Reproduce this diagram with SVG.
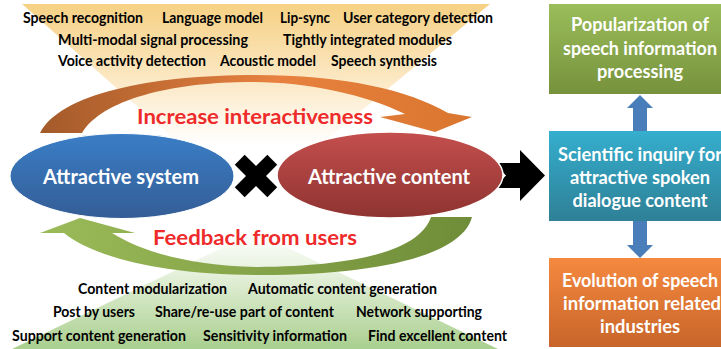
<svg xmlns="http://www.w3.org/2000/svg" width="721" height="349" viewBox="0 0 721 349">
<defs>
<linearGradient id="gTopTri" x1="0" y1="0" x2="0" y2="1">
<stop offset="0" stop-color="#f6d184"/><stop offset="0.35" stop-color="#fbe6bf"/><stop offset="0.7" stop-color="#ffffff"/><stop offset="1" stop-color="#ffffff"/>
</linearGradient>
<linearGradient id="gBotTri" x1="0" y1="0" x2="0" y2="1">
<stop offset="0" stop-color="#ffffff"/><stop offset="0.35" stop-color="#e6f1dc"/><stop offset="1" stop-color="#a9cf8e"/>
</linearGradient>
<linearGradient id="gOrangeArrow" x1="0" y1="0" x2="1" y2="0">
<stop offset="0" stop-color="#a35a2a"/><stop offset="0.55" stop-color="#e8813f"/><stop offset="1" stop-color="#d9762f"/>
</linearGradient>
<linearGradient id="gGreenArrow" x1="0" y1="0" x2="1" y2="0">
<stop offset="0" stop-color="#9bbb59"/><stop offset="0.6" stop-color="#819f45"/><stop offset="1" stop-color="#6f8c38"/>
</linearGradient>
<linearGradient id="gBlue" x1="0" y1="0" x2="0" y2="1">
<stop offset="0" stop-color="#3a7ec6"/><stop offset="1" stop-color="#345d96"/>
</linearGradient>
<linearGradient id="gRed" x1="0" y1="0" x2="0" y2="1">
<stop offset="0" stop-color="#c44f4d"/><stop offset="1" stop-color="#8e3331"/>
</linearGradient>
<linearGradient id="gBoxGreen" x1="0" y1="0" x2="0" y2="1">
<stop offset="0" stop-color="#9bbd5a"/><stop offset="1" stop-color="#76923c"/>
</linearGradient>
<linearGradient id="gBoxCyan" x1="0" y1="0" x2="0" y2="1">
<stop offset="0" stop-color="#35aece"/><stop offset="1" stop-color="#2e8096"/>
</linearGradient>
<linearGradient id="gBoxOrange" x1="0" y1="0" x2="0" y2="1">
<stop offset="0" stop-color="#f5893f"/><stop offset="1" stop-color="#c8652a"/>
</linearGradient>
</defs>
<style>
.kw{font-family:Lato,"Liberation Sans",sans-serif;font-weight:bold;font-size:15px;fill:#000000;}
.red{font-family:Lato,"Liberation Sans",sans-serif;font-weight:bold;font-size:21px;fill:#ee2a2a;}
.ell{font-family:Lato,"Liberation Sans",sans-serif;font-weight:bold;font-size:21px;fill:#ffffff;}
.box{font-family:Lato,"Liberation Sans",sans-serif;font-weight:bold;font-size:18.5px;fill:#ffffff;text-anchor:middle;}
.blk{fill:#000000;}
.updown{fill:#4a7ebb;}
</style>

<g id="background">
<polygon points="22,4 490,4 248,205" fill="url(#gTopTri)"/>
<polygon points="255,232 498,349 12,349" fill="url(#gBotTri)"/>
</g>

<g id="top-keywords">
<text class="kw" x="23" y="23" textLength="120" lengthAdjust="spacingAndGlyphs">Speech recognition</text>
<text class="kw" x="162" y="23" textLength="101" lengthAdjust="spacingAndGlyphs">Language model</text>
<text class="kw" x="280" y="23" textLength="50" lengthAdjust="spacingAndGlyphs">Lip-sync</text>
<text class="kw" x="343" y="23" textLength="150" lengthAdjust="spacingAndGlyphs">User category detection</text>
<text class="kw" x="58" y="45" textLength="190" lengthAdjust="spacingAndGlyphs">Multi-modal signal processing</text>
<text class="kw" x="283" y="45" textLength="169" lengthAdjust="spacingAndGlyphs">Tightly integrated modules</text>
<text class="kw" x="58" y="66" textLength="148" lengthAdjust="spacingAndGlyphs">Voice activity detection</text>
<text class="kw" x="220" y="66" textLength="96" lengthAdjust="spacingAndGlyphs">Acoustic model</text>
<text class="kw" x="331" y="66" textLength="106" lengthAdjust="spacingAndGlyphs">Speech synthesis</text>
</g>

<g id="bottom-keywords">
<text class="kw" x="78" y="294" textLength="149" lengthAdjust="spacingAndGlyphs">Content modularization</text>
<text class="kw" x="248" y="294" textLength="189" lengthAdjust="spacingAndGlyphs">Automatic content generation</text>
<text class="kw" x="53" y="317" textLength="82" lengthAdjust="spacingAndGlyphs">Post by users</text>
<text class="kw" x="155" y="317" textLength="179" lengthAdjust="spacingAndGlyphs">Share/re-use part of content</text>
<text class="kw" x="356" y="317" textLength="126" lengthAdjust="spacingAndGlyphs">Network supporting</text>
<text class="kw" x="12" y="341" textLength="174" lengthAdjust="spacingAndGlyphs">Support content generation</text>
<text class="kw" x="203" y="341" textLength="144" lengthAdjust="spacingAndGlyphs">Sensitivity information</text>
<text class="kw" x="368" y="341" textLength="139" lengthAdjust="spacingAndGlyphs">Find excellent content</text>
</g>

<g id="connectors">
<path id="arrow-increase" d="M40,133 C60,94 150,75 255,75 C345,75 408,90 448,113 L472,117 L435,132 L380,117 L405,114 C365,94 305,82 252,82 C170,82 102,100 82,133 Z" fill="url(#gOrangeArrow)"/>
<path id="arrow-feedback" d="M472,217 C462,255 380,275 260,275 C160,275 92,256 64,233 L40,233 L80,218 L135,233 L112,233 C142,252 192,266 258,267 C358,266 420,250 431,217 Z" fill="url(#gGreenArrow)"/>
<path id="arrow-to-inquiry" class="blk" d="M494,163 L520,163 L520,150 L545,175.5 L520,201 L520,188 L494,188 L506,175.5 Z"/>
<path id="arrow-up" class="updown" d="M633,131 L633,108 L627,108 L640,95 L653,108 L647,108 L647,131 Z"/>
<path id="arrow-down" class="updown" d="M633,221 L647,221 L647,245 L653,245 L640,258 L627,245 L633,245 Z"/>
</g>

<g id="label-increase">
<text class="red" x="137" y="124" textLength="236" lengthAdjust="spacingAndGlyphs">Increase interactiveness</text>
</g>
<g id="label-feedback">
<text class="red" x="153" y="245" textLength="204" lengthAdjust="spacingAndGlyphs">Feedback from users</text>
</g>

<g id="attractive-system">
<ellipse cx="122" cy="176" rx="112" ry="42.5" fill="url(#gBlue)" stroke="#ffffff" stroke-width="1"/>
<text class="ell" x="43" y="184" textLength="156" lengthAdjust="spacingAndGlyphs">Attractive system</text>
</g>

<g id="times">
<rect x="233" y="169" width="46" height="14" class="blk" transform="rotate(45 256 176)"/>
<rect x="233" y="169" width="46" height="14" class="blk" transform="rotate(-45 256 176)"/>
</g>

<g id="attractive-content">
<ellipse cx="390" cy="175" rx="113" ry="43" fill="url(#gRed)" stroke="#ffffff" stroke-width="1.5"/>
<text class="ell" x="308" y="184" textLength="162" lengthAdjust="spacingAndGlyphs">Attractive content</text>
</g>

<g id="popularization">
<rect x="549" y="4" width="180" height="90" fill="url(#gBoxGreen)"/>
<text class="box" x="640" y="31" textLength="138" lengthAdjust="spacingAndGlyphs">Popularization of</text>
<text class="box" x="640" y="55" textLength="154" lengthAdjust="spacingAndGlyphs">speech information</text>
<text class="box" x="640" y="78" textLength="86" lengthAdjust="spacingAndGlyphs">processing</text>
</g>

<g id="scientific-inquiry">
<rect x="549" y="131" width="180" height="90" fill="url(#gBoxCyan)"/>
<text class="box" x="640" y="161" textLength="164" lengthAdjust="spacingAndGlyphs">Scientific inquiry for</text>
<text class="box" x="640" y="184" textLength="140" lengthAdjust="spacingAndGlyphs">attractive spoken</text>
<text class="box" x="640" y="207" textLength="135" lengthAdjust="spacingAndGlyphs">dialogue content</text>
</g>

<g id="evolution">
<rect x="549" y="258" width="180" height="89" fill="url(#gBoxOrange)"/>
<text class="box" x="640" y="287" textLength="156" lengthAdjust="spacingAndGlyphs">Evolution of speech</text>
<text class="box" x="642" y="310" textLength="158" lengthAdjust="spacingAndGlyphs">information related</text>
<text class="box" x="640" y="333" textLength="80" lengthAdjust="spacingAndGlyphs">industries</text>
</g>
</svg>
